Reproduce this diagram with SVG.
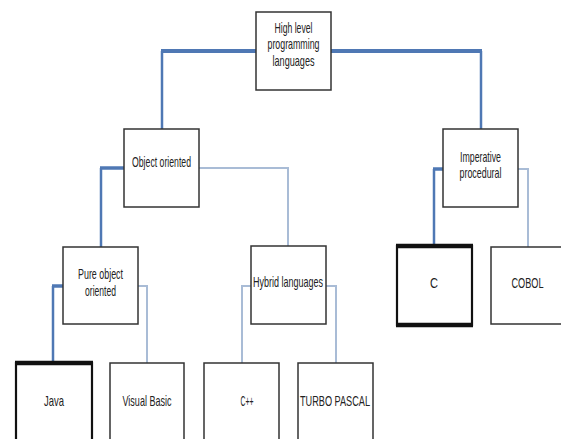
<svg xmlns="http://www.w3.org/2000/svg" width="561" height="439" viewBox="0 0 561 439">
<style>
.box{fill:#fff;stroke:#333;stroke-width:1.5}
.bold{fill:#fff;stroke:#111;stroke-width:2.2}
.thick{stroke:#111;stroke-width:4.5;fill:none}
.dk{fill:none;stroke:#4f78b4;stroke-linejoin:miter}
.lt{fill:none;stroke:#a9bcd6;stroke-width:2}
text{font-family:"Liberation Sans",Arial,sans-serif;font-size:15px;fill:#222;text-anchor:middle}
</style>
<rect width="561" height="439" fill="#fff"/>
<g id="connectors">
<path class="dk" d="M256,51 H161" stroke-width="4"/>
<path class="dk" d="M162,51 V129" stroke-width="2.5"/>
<path class="dk" d="M331,51 H482" stroke-width="4"/>
<path class="dk" d="M481,51 V129" stroke-width="2.5"/>
<path class="dk" d="M124,168 H100" stroke-width="3.5"/>
<path class="dk" d="M101,168 V247" stroke-width="2.5"/>
<path class="dk" d="M63,286 H52" stroke-width="3.5"/>
<path class="dk" d="M53,286 V363" stroke-width="2.5"/>
<path class="dk" d="M443,169 H433" stroke-width="3.5"/>
<path class="dk" d="M434,169 V246" stroke-width="2.5"/>
<path class="lt" d="M199,168 H288 V246"/>
<path class="lt" d="M138,286 H147 V363"/>
<path class="lt" d="M251,286 H242 V363"/>
<path class="lt" d="M326,286 H336 V363"/>
<path class="lt" d="M518,169 H528 V247"/>
</g>
<g id="n-high">
<rect class="box" x="256" y="12" width="75" height="78"/>
<text x="293.5" y="33" textLength="38" lengthAdjust="spacingAndGlyphs">High level</text>
<text x="293.5" y="49" textLength="52" lengthAdjust="spacingAndGlyphs">programming</text>
<text x="293.5" y="66" textLength="42" lengthAdjust="spacingAndGlyphs">languages</text>
</g>
<g id="n-object">
<rect class="box" x="124" y="129" width="75" height="78"/>
<text x="161.5" y="167" textLength="59" lengthAdjust="spacingAndGlyphs">Object oriented</text>
</g>
<g id="n-imperative">
<rect class="box" x="443" y="129" width="75" height="78"/>
<text x="480.5" y="162" textLength="41" lengthAdjust="spacingAndGlyphs">Imperative</text>
<text x="480.5" y="178" textLength="42" lengthAdjust="spacingAndGlyphs">procedural</text>
</g>
<g id="n-pure">
<rect class="box" x="63" y="247" width="75" height="77"/>
<text x="100.5" y="279" textLength="45" lengthAdjust="spacingAndGlyphs">Pure object</text>
<text x="100.5" y="296" textLength="31" lengthAdjust="spacingAndGlyphs">oriented</text>
</g>
<g id="n-hybrid">
<rect class="box" x="251" y="246" width="75" height="78"/>
<text x="288" y="287" textLength="70" lengthAdjust="spacingAndGlyphs">Hybrid languages</text>
</g>
<g id="n-c">
<rect class="bold" x="397" y="246" width="75" height="79"/>
<path class="thick" d="M396,246 H473 M396,325 H473"/>
<text x="434" y="288" textLength="8" lengthAdjust="spacingAndGlyphs">C</text>
</g>
<g id="n-cobol">
<path class="box" d="M561,247 H491 V324 H561"/>
<text x="527.5" y="288" textLength="32" lengthAdjust="spacingAndGlyphs">COBOL</text>
</g>
<g id="n-java">
<path class="bold" d="M16,439 V363 H92 V439"/>
<path class="thick" d="M15,363 H93"/>
<text x="54" y="406" textLength="20" lengthAdjust="spacingAndGlyphs">Java</text>
</g>
<g id="n-vb">
<path class="box" d="M110,439 V363 H184 V439"/>
<text x="147" y="406" textLength="49" lengthAdjust="spacingAndGlyphs">Visual Basic</text>
</g>
<g id="n-cpp">
<path class="box" d="M204,439 V363 H279 V439"/>
<text x="247" y="406" textLength="13" lengthAdjust="spacingAndGlyphs">C++</text>
</g>
<g id="n-tp">
<path class="box" d="M298,439 V363 H373 V439"/>
<text x="335" y="406" textLength="70" lengthAdjust="spacingAndGlyphs">TURBO PASCAL</text>
</g>
</svg>
